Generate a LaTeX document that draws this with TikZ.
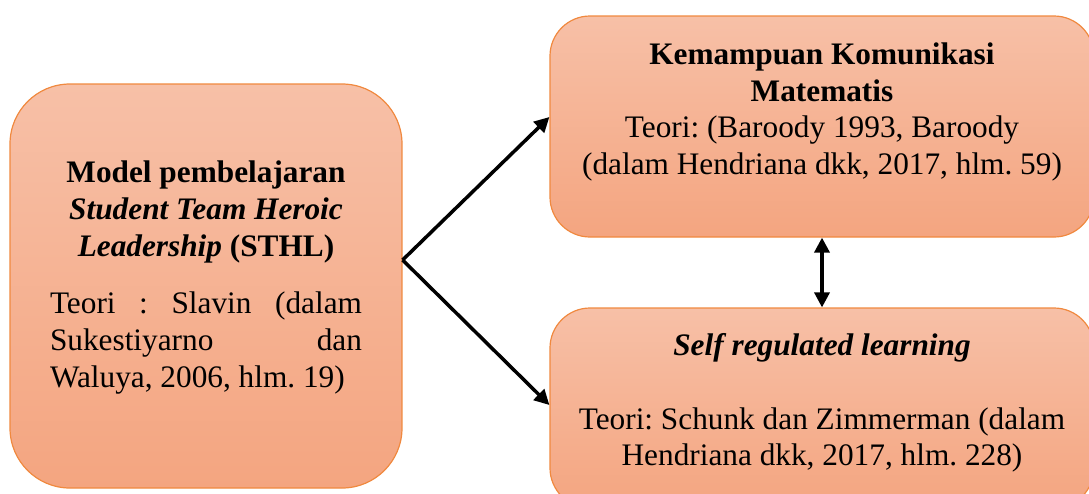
\documentclass[tikz,border=0pt]{standalone}
\usepackage{fontspec}
\setmainfont{Liberation Serif}
\usetikzlibrary{arrows.meta}
\frenchspacing
\definecolor{boxtop}{HTML}{F7C0A7}
\definecolor{boxbot}{HTML}{F4A580}
\definecolor{boxline}{HTML}{F0893F}
\tikzset{
  box/.style={draw=boxline, line width=1.2pt, top color=boxtop, bottom color=boxbot, inner sep=0pt},
  txt/.style={inner sep=0pt, align=center, font=\fontsize{31.3}{36.8}\selectfont\frenchspacing},
  conn/.style={line width=3.5pt, -{Triangle[length=15pt,width=15pt]}},
  biconn/.style={line width=3.5pt, {Triangle[length=15pt,width=15pt]}-{Triangle[length=15pt,width=15pt]}}
}
\begin{document}
\begin{tikzpicture}[x=1pt,y=-1pt]
\useasboundingbox (0,0) rectangle (1089,493);
\clip (0,0) rectangle (1089,493);
\node[box, minimum width=392pt, minimum height=404pt, rounded corners=60pt] (L) at (206,286) {};
\node[box, minimum width=544pt, minimum height=221pt, rounded corners=40pt] (T) at (822,126.5) {};
\node[box, minimum width=544pt, minimum height=200pt, rounded corners=40pt] (B) at (822,408) {};
\node[txt] (Lh) at (206,212) {\textbf{Model pembelajaran}\\\textbf{\textit{Student Team Heroic}}\\\textbf{\textit{Leadership} (STHL)}};
\node[txt, align=left] (Lt) at (206,343) {\hbox to 312pt{Teori\hfill:\hfill Slavin\hfill(dalam}\\\hbox to 312pt{Sukestiyarno\hfill dan}\\Waluya, 2006, hlm. 19)};
\node[txt] (Tt) at (822,112) {\textbf{Kemampuan Komunikasi}\\\textbf{Matematis}\\Teori: (Baroody 1993, Baroody\\(dalam Hendriana dkk, 2017, hlm. 59)};
\node[txt] (Bh) at (822,348) {\textbf{\textit{Self regulated learning}}};
\node[txt] (Bt) at (822,440) {Teori: Schunk dan Zimmerman (dalam\\Hendriana dkk, 2017, hlm. 228)};
\draw[conn] ([yshift=26pt]L.east) -- ([yshift=9.5pt]T.west);
\draw[conn] ([yshift=26pt]L.east) -- ([yshift=3pt]B.west);
\draw[biconn] (T.south) -- (B.north);
\end{tikzpicture}
\end{document}
